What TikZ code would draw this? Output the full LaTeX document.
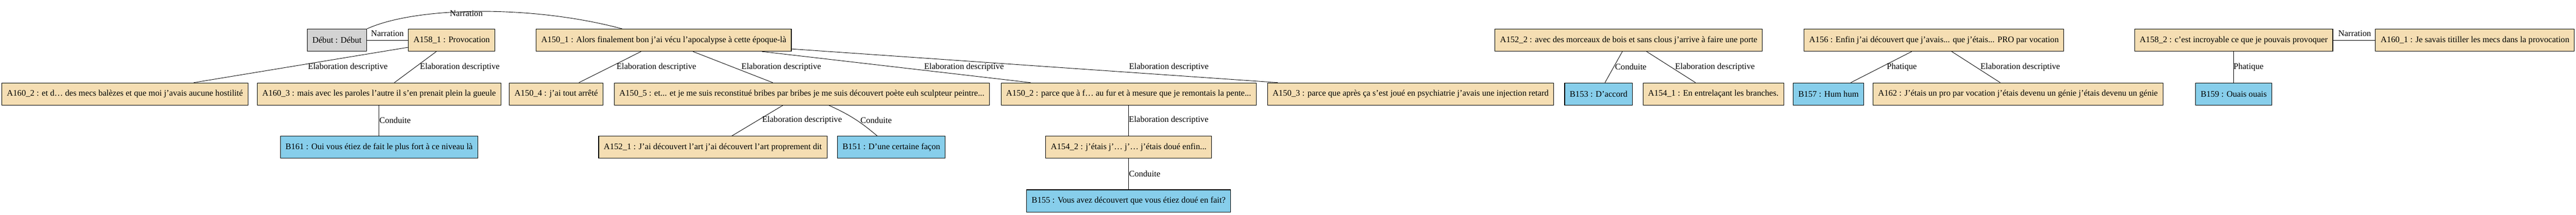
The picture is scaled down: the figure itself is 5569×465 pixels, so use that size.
\documentclass[tikz,border=0pt]{standalone}
\usepackage{fontspec}
\setmainfont{Liberation Serif}
\definecolor{wheat}{HTML}{F5DEB3}
\definecolor{skyblue}{HTML}{87CEEB}
\definecolor{gvgrey}{HTML}{D3D3D3}
\begin{document}
\begin{tikzpicture}[x=1pt,y=-1pt,
 every node/.style={font=\fontsize{18.5}{22}\selectfont},
 seg/.style={draw,line width=1.2pt,fill=wheat,minimum height=48pt,inner xsep=11pt,inner ysep=0pt},
 rep/.style={seg,fill=skyblue},
 debutbox/.style={seg,fill=gvgrey},
 rel/.style={inner sep=0pt},
 link/.style={line width=1pt}]

 \useasboundingbox (0,0) rectangle (5569,465);

 % first row
 \node[debutbox] (debut) at (728.5,87) {Début : Début};
 \node[seg] (a158-1) at (976.5,87) {A158\_1 : Provocation};
 \node[seg] (a150-1) at (1435,87) {A150\_1 : Alors finalement bon j’ai vécu l’apocalypse à cette époque-là};
 \node[seg] (a152-2) at (3521,87) {A152\_2 : avec des morceaux de bois et sans clous j’arrive à faire une porte};
 \node[seg] (a156) at (4181,87) {A156 : Enfin j’ai découvert que j’avais... que j’étais... PRO par vocation};
 \node[seg] (a158-2) at (4829,87) {A158\_2 : c’est incroyable ce que je pouvais provoquer};
 \node[seg] (a160-1) at (5350.5,87) {A160\_1 : Je savais titiller les mecs dans la provocation};

 % second row
 \node[seg] (a160-2) at (270,203.5) {A160\_2 : et d… des mecs balèzes et que moi j’avais aucune hostilité};
 \node[seg] (a160-3) at (819.5,203.5) {A160\_3 : mais avec les paroles l’autre il s’en prenait plein la gueule};
 \node[seg] (a150-4) at (1202.5,203.5) {A150\_4 : j’ai tout arrêté};
 \node[seg] (a150-5) at (1733.5,203.5) {A150\_5 : et... et je me suis reconstitué bribes par bribes je me suis découvert poète euh sculpteur peintre...};
 \node[seg] (a150-2) at (2440,203.5) {A150\_2 : parce que à f… au fur et à mesure que je remontais la pente...};
 \node[seg] (a150-3) at (3049.5,203.5) {A150\_3 : parce que après ça s’est joué en psychiatrie j’avais une injection retard};
 \node[rep] (b153) at (3456,203.5) {B153 : D’accord};
 \node[seg] (a154-1) at (3704,203.5) {A154\_1 : En entrelaçant les branches.};
 \node[rep] (b157) at (3953,203.5) {B157 : Hum hum};
 \node[seg] (a162) at (4362.5,203.5) {A162 : J’étais un pro par vocation j’étais devenu un génie j’étais devenu un génie};
 \node[rep] (b159) at (4829,203.5) {B159 : Ouais ouais};

 % third and fourth rows
 \node[rep] (b161) at (819.5,319) {B161 : Oui vous étiez de fait le plus fort à ce niveau là};
 \node[seg] (a152-1) at (1541,319) {A152\_1 : J’ai découvert l’art j’ai découvert l’art proprement dit};
 \node[rep] (b151) at (1927,319) {B151 : D’une certaine façon};
 \node[seg] (a154-2) at (2440,319) {A154\_2 : j’étais j’… j’… j’étais doué enfin...};
 \node[rep] (b155) at (2440,435) {B155 : Vous avez découvert que vous étiez doué en fait?};

 % relations
 \draw[link] (debut) -- (a158-1) node[rel] at (837.5,73) {Narration};
 \draw[link] (debut.north east) .. controls (900,14) and (1150,10) .. ([xshift=-90pt]a150-1.north)
  node[rel] at (1008,29) {Narration};
 \foreach \s/\t/\x in {a158-1/a160-2/752, a158-1/a160-3/994, a150-1/a150-4/1419,
  a150-1/a150-5/1689, a150-1/a150-2/2084, a152-2/a154-1/3707.5, a156/a162/4367.5}
  \draw[link] (\s) -- (\t) node[rel] at (\x,145) {Elaboration descriptive};
 \draw[link] (a150-1) -- ([xshift=23pt]a150-3.north west) node[rel] at (2527,145) {Elaboration descriptive};
 \draw[link] (a152-2) -- (b153) node[rel] at (3525.5,145) {Conduite};
 \draw[link] (a156) -- (b157) node[rel] at (4111.5,145) {Phatique};
 \draw[link] (a158-2) -- (b159) node[rel] at (4861,145) {Phatique};
 \draw[link] (a158-2) -- (a160-1) node[rel] at (5090.5,73) {Narration};
 \draw[link] (a160-3) -- (b161) node[rel] at (854,260) {Conduite};
 \draw[link] (a150-5) -- (a152-1) node[rel] at (1734,260) {Elaboration descriptive};
 \draw[link] (a150-5) to[bend left=8] (b151) node[rel] at (1894,260) {Conduite};
 \draw[link] (a150-2) -- (a154-2) node[rel] at (2526.5,260) {Elaboration descriptive};
 \draw[link] (a154-2) -- (b155) node[rel] at (2474.5,376) {Conduite};

\end{tikzpicture}
\end{document}
